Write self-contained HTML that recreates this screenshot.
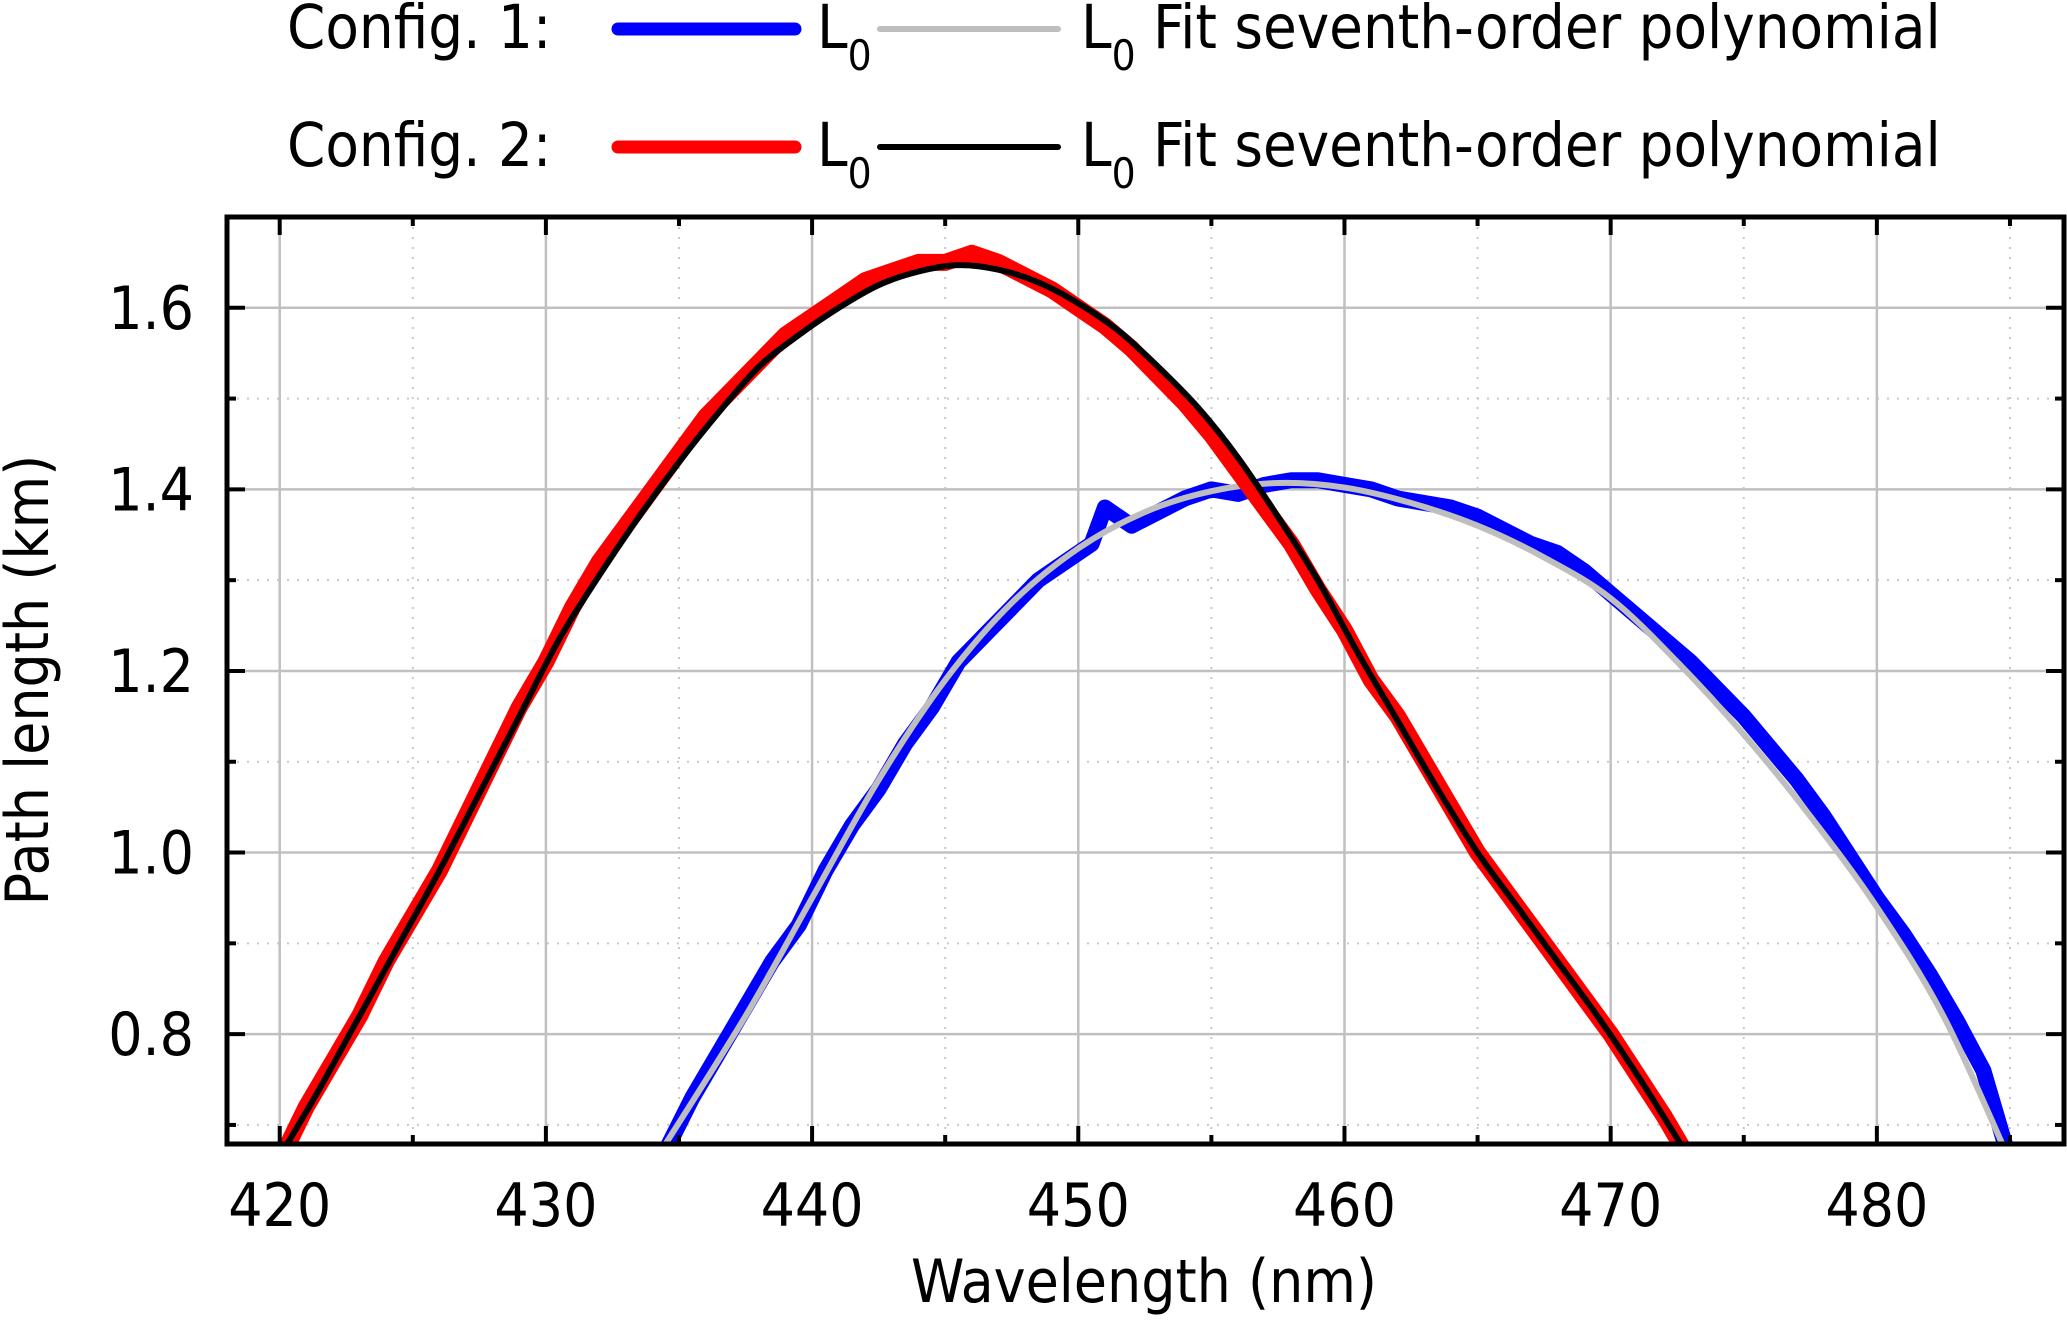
<!DOCTYPE html>
<html><head><meta charset="utf-8"><style>
html,body{margin:0;padding:0;background:#fff}
svg{display:block;font-family:"DejaVu Sans Condensed","Liberation Sans",sans-serif}
</style></head><body>
<svg id="c" width="2067" height="1326" viewBox="0 0 2067 1326" xmlns="http://www.w3.org/2000/svg">
<defs><clipPath id="clip"><rect x="227" y="217" width="1837" height="927"/></clipPath></defs>
<g id="grid"></g>
<g id="series" clip-path="url(#clip)"></g>
<g id="axes"></g>
<g id="legend" font-size="61" fill="#000">
  <text x="287" y="48">Config. 1:</text>
  <line x1="618" y1="29" x2="795" y2="29" stroke="#0000ff" stroke-width="13" stroke-linecap="round"/>
  <text x="817" y="48">L<tspan font-size="42" dy="22">0</tspan></text>
  <line x1="880" y1="29" x2="1058" y2="29" stroke="#bebebe" stroke-width="6" stroke-linecap="round"/>
  <text x="1081" y="48">L<tspan font-size="42" dy="22">0</tspan><tspan dy="-22"> Fit seventh-order polynomial</tspan></text>
  <text x="287" y="166">Config. 2:</text>
  <line x1="618" y1="147" x2="795" y2="147" stroke="#ff0000" stroke-width="13" stroke-linecap="round"/>
  <text x="817" y="166">L<tspan font-size="42" dy="22">0</tspan></text>
  <line x1="880" y1="147" x2="1058" y2="147" stroke="#000" stroke-width="6" stroke-linecap="round"/>
  <text x="1081" y="166">L<tspan font-size="42" dy="22">0</tspan><tspan dy="-22"> Fit seventh-order polynomial</tspan></text>
</g>
<text x="1144" y="1302" font-size="60" text-anchor="middle">Wavelength (nm)</text>
<text transform="translate(48,680) rotate(-90)" font-size="60" text-anchor="middle">Path length (km)</text>
</svg>
<script>
const xTicks=[420,430,440,450,460,470,480];
const yTicks=[0.8,1.0,1.2,1.4,1.6];
const yTickLabels=["0.8","1.0","1.2","1.4","1.6"];
const blueX=[434.3,435.5,436.5,437.5,438.5,439.5,440.5,441.5,442.5,443.5,444.5,445.5,446.5,447.5,448.5,449.5,450.5,451,452,453,454,455,456,457,458,459,460,461,462,463,464,465,466,467,468,469,470,471,472,473,474,475,476,477,478,479,480,481,482,483,484,485];
const blueY=[0.66,0.73,0.78,0.83,0.88,0.92,0.98,1.03,1.07,1.12,1.16,1.21,1.24,1.27,1.30,1.32,1.34,1.38,1.36,1.375,1.39,1.40,1.395,1.405,1.41,1.41,1.405,1.40,1.39,1.385,1.38,1.37,1.355,1.34,1.33,1.31,1.285,1.26,1.235,1.21,1.18,1.15,1.115,1.08,1.04,0.995,0.95,0.91,0.865,0.815,0.76,0.66];
const blueFitX=[434.3,437.5,440,442.5,445,447.5,450,452.5,455,457.5,460,462.5,465,467.5,470,472.5,475,477.5,480,482.5,485];
const blueFitY=[0.67,0.82,0.95,1.08,1.19,1.275,1.335,1.375,1.398,1.407,1.402,1.385,1.36,1.325,1.28,1.21,1.13,1.04,0.94,0.82,0.66];
const redX=[420,421,422,423,424,425,426,427,428,429,430,431,432,433,434,435,436,437,438,439,440,441,442,443,444,445,446,447,448,449,450,451,452,453,454,455,456,457,458,459,460,461,462,463,464,465,466,467,468,469,470,471,472,473];
const redY=[0.66,0.72,0.77,0.82,0.88,0.93,0.98,1.04,1.10,1.16,1.21,1.27,1.32,1.36,1.40,1.44,1.48,1.51,1.54,1.57,1.59,1.61,1.63,1.64,1.65,1.65,1.66,1.65,1.635,1.62,1.60,1.58,1.555,1.525,1.495,1.46,1.42,1.38,1.34,1.29,1.245,1.19,1.15,1.10,1.05,1.0,0.96,0.92,0.88,0.84,0.80,0.755,0.71,0.66];
const redFitX=[420,421.5,423,424.5,426,427.5,429,430.5,432,433.5,435,436.5,438,439.5,441,442.5,444,445.5,447,448.5,450,451.5,453,454.5,456,457.5,459,460.5,462,463.5,465,466.5,468,469.5,471,472.5,473];
const redFitY=[0.665,0.74,0.82,0.90,0.98,1.065,1.15,1.235,1.305,1.37,1.43,1.485,1.535,1.57,1.60,1.625,1.64,1.647,1.642,1.628,1.605,1.575,1.535,1.49,1.435,1.37,1.30,1.22,1.145,1.07,1.0,0.94,0.88,0.82,0.755,0.685,0.66];

const L=227,R=2064,T=217,B=1144;
const x=v=>L+(v-418.02)/(487.03-418.02)*(R-L);
const y=v=>B-(v-0.679)/(1.70-0.679)*(B-T);
const NS="http://www.w3.org/2000/svg";
function mk(tag,attrs,parent){const e=document.createElementNS(NS,tag);for(const k in attrs)e.setAttribute(k,attrs[k]);parent.appendChild(e);return e;}
const grid=document.getElementById('grid'),axes=document.getElementById('axes'),ser=document.getElementById('series');
for(let v=415;v<=490;v+=5){if(v%10===0)continue;const px=x(v);if(px<L||px>R)continue;
 const l=mk('line',{x1:px,x2:px,y1:T,y2:B,stroke:'#c8c8c8','stroke-width':2,'stroke-dasharray':'2 8'},grid);
 
 for(const [a,b] of [[B,B-9],[T,T+9]]){const t=mk('line',{x1:px,x2:px,y1:a,y2:b,stroke:'#000','stroke-width':4},axes);}}
for(let i=7;i<=17;i++){const v=i/10;if(i%2===0)continue;const py=y(v);if(py<T||py>B)continue;
 const l=mk('line',{x1:L,x2:R,y1:py,y2:py,stroke:'#c8c8c8','stroke-width':2,'stroke-dasharray':'2 8'},grid);
 
 for(const [a,b] of [[L,L+9],[R,R-9]]){const t=mk('line',{x1:a,x2:b,y1:py,y2:py,stroke:'#000','stroke-width':4},axes);}}
xTicks.forEach(v=>{const px=x(v);
 const g=mk('line',{x1:px,x2:px,y1:T,y2:B,stroke:'#c0c0c0','stroke-width':2.5},grid);
 
 for(const [a,b] of [[B,B-18],[T,T+18]]){const t=mk('line',{x1:px,x2:px,y1:a,y2:b,stroke:'#000','stroke-width':4},axes);}
 const tx=mk('text',{x:px,y:1226,'font-size':60,'text-anchor':'middle'},axes);tx.textContent=String(v);
 });
yTicks.forEach((v,i)=>{const py=y(v);
 const g=mk('line',{x1:L,x2:R,y1:py,y2:py,stroke:'#c0c0c0','stroke-width':2.5},grid);
 
 for(const [a,b] of [[L,L+18],[R,R-18]]){const t=mk('line',{x1:a,x2:b,y1:py,y2:py,stroke:'#000','stroke-width':4},axes);}
 const tx=mk('text',{x:194,y:py+21,'font-size':60,'text-anchor':'end'},axes);tx.textContent=yTickLabels[i];
 });
const frame=mk('rect',{x:L,y:T,width:R-L,height:B-T,fill:'none',stroke:'#000','stroke-width':5},axes);

function smooth(xs,ys){const p=xs.map((v,i)=>[x(v),y(ys[i])]);let d=`M${p[0][0]},${p[0][1]}`;
 for(let i=0;i<p.length-1;i++){const p0=p[Math.max(0,i-1)],p1=p[i],p2=p[i+1],p3=p[Math.min(p.length-1,i+2)];
  d+=` C${p1[0]+(p2[0]-p0[0])/6},${p1[1]+(p2[1]-p0[1])/6} ${p2[0]-(p3[0]-p1[0])/6},${p2[1]-(p3[1]-p1[1])/6} ${p2[0]},${p2[1]}`;}return d;}
function poly(xs,ys){return xs.map((v,i)=>(i?'L':'M')+x(v)+','+y(ys[i])).join(' ');}
const s1=mk('path',{d:poly(blueX,blueY),fill:'none',stroke:'#0000ff','stroke-width':16,'stroke-linejoin':'round','stroke-linecap':'round'},ser);

const s2=mk('path',{d:smooth(blueFitX,blueFitY),fill:'none',stroke:'#bebebe','stroke-width':6},ser);

const s3=mk('path',{d:poly(redX,redY),fill:'none',stroke:'#ff0000','stroke-width':17,'stroke-linejoin':'round','stroke-linecap':'round'},ser);

const s4=mk('path',{d:smooth(redFitX,redFitY),fill:'none',stroke:'#000','stroke-width':6},ser);

</script>
</body></html>
